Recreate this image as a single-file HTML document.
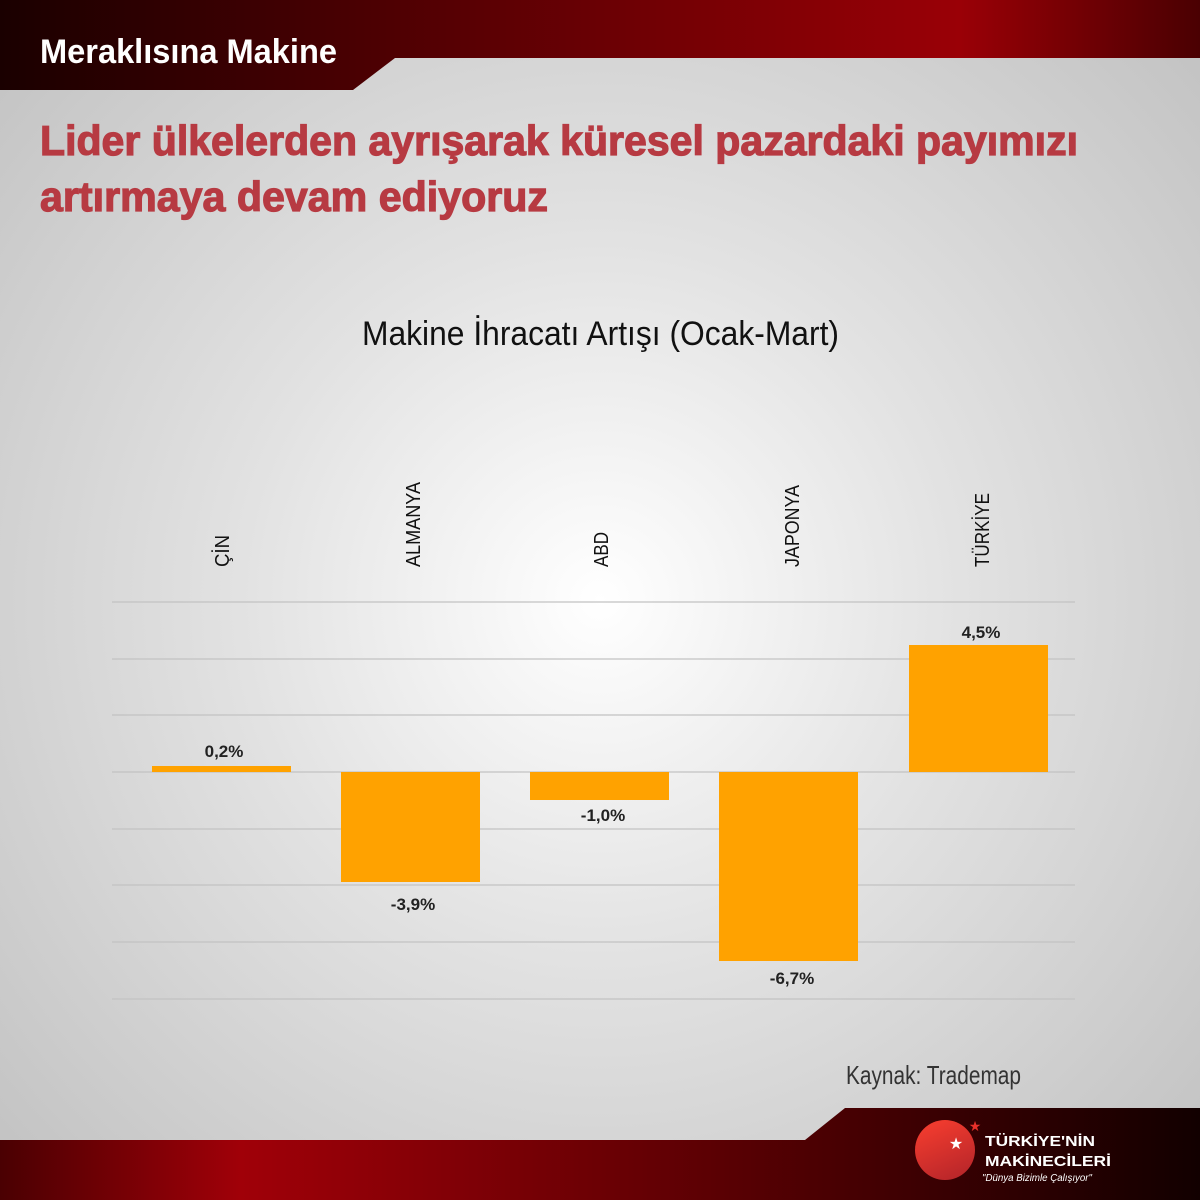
<!DOCTYPE html>
<html><head><meta charset="utf-8"><style>body{margin:0}svg{display:block}</style></head><body>
<svg width="1200" height="1200" xmlns="http://www.w3.org/2000/svg" font-family="'Liberation Sans', sans-serif">
<defs>
<radialGradient id="bg" cx="600" cy="600" r="800" gradientUnits="userSpaceOnUse">
<stop offset="0" stop-color="#ffffff"/><stop offset="0.45" stop-color="#e2e2e2"/><stop offset="1" stop-color="#c4c4c4"/></radialGradient>
<linearGradient id="rd" x1="0" y1="0" x2="1" y2="0">
<stop offset="0" stop-color="#1a0000"/><stop offset="0.4" stop-color="#5a0003"/><stop offset="0.8" stop-color="#9a0006"/><stop offset="1" stop-color="#4a0002"/></linearGradient>
<linearGradient id="rd2" x1="0" y1="0" x2="1" y2="0">
<stop offset="0" stop-color="#4a0002"/><stop offset="0.2" stop-color="#a00008"/><stop offset="0.6" stop-color="#5a0003"/><stop offset="1" stop-color="#120000"/></linearGradient>
<linearGradient id="ball" x1="0.3" y1="0.1" x2="0.7" y2="1"><stop offset="0" stop-color="#ee3a2e"/><stop offset="1" stop-color="#b8262a"/></linearGradient>
</defs>
<rect width="1200" height="1200" fill="url(#bg)"/>
<polygon points="0,0 1200,0 1200,58 395,58 353,90 0,90" fill="url(#rd)"/>
<polygon points="0,1140 805,1140 845,1108 1200,1108 1200,1200 0,1200" fill="url(#rd2)"/>
<text x="40" y="63" fill="#fff" font-size="34" font-weight="bold" textLength="297" lengthAdjust="spacingAndGlyphs">Meraklısına Makine</text>
<g fill="#b73a42" stroke="#b73a42" stroke-width="1.2" font-size="42" font-weight="bold">
<text x="40" y="155" textLength="1038" lengthAdjust="spacingAndGlyphs">Lider ülkelerden ayrışarak küresel pazardaki payımızı</text>
<text x="40" y="211" textLength="508" lengthAdjust="spacingAndGlyphs">artırmaya devam ediyoruz</text>
</g>
<text x="362" y="345" fill="#111" font-size="34" textLength="477" lengthAdjust="spacingAndGlyphs">Makine İhracatı Artışı (Ocak-Mart)</text>
<g stroke="#c2c2c2" stroke-width="1.2">
<line x1="112" y1="602" x2="1075" y2="602"/><line x1="112" y1="659" x2="1075" y2="659"/><line x1="112" y1="715" x2="1075" y2="715"/><line x1="112" y1="772" x2="1075" y2="772"/><line x1="112" y1="829" x2="1075" y2="829"/><line x1="112" y1="885" x2="1075" y2="885"/><line x1="112" y1="942" x2="1075" y2="942"/><line x1="112" y1="999" x2="1075" y2="999"/>
</g>
<g fill="#ffa200">
<rect x="152" y="766" width="139" height="6"/>
<rect x="341" y="772" width="139" height="110"/>
<rect x="530" y="772" width="139" height="28"/>
<rect x="719" y="772" width="139" height="189"/>
<rect x="909" y="645" width="139" height="127"/>
</g>
<g font-size="17" font-weight="bold" fill="#222" text-anchor="middle">
<text x="224" y="757">0,2%</text><text x="413" y="910">-3,9%</text><text x="603" y="821">-1,0%</text><text x="792" y="984">-6,7%</text><text x="981" y="638">4,5%</text>
</g>
<g font-size="20" fill="#111">
<text transform="translate(229,567) rotate(-90)" textLength="32" lengthAdjust="spacingAndGlyphs">ÇİN</text>
<text transform="translate(420,567) rotate(-90)" textLength="85" lengthAdjust="spacingAndGlyphs">ALMANYA</text>
<text transform="translate(608,567) rotate(-90)" textLength="35" lengthAdjust="spacingAndGlyphs">ABD</text>
<text transform="translate(799,567) rotate(-90)" textLength="82" lengthAdjust="spacingAndGlyphs">JAPONYA</text>
<text transform="translate(989,567) rotate(-90)" textLength="74" lengthAdjust="spacingAndGlyphs">TÜRKİYE</text>
</g>
<text x="846" y="1084" fill="#333" font-size="26" textLength="175" lengthAdjust="spacingAndGlyphs">Kaynak: Trademap</text>
<circle cx="945" cy="1150" r="30" fill="url(#ball)"/>
<text x="956" y="1149" fill="#fff" font-size="16" text-anchor="middle">★</text>
<text x="975" y="1131" fill="#e8302a" font-size="14" text-anchor="middle">★</text>
<text x="985" y="1146" fill="#fff" font-size="15" font-weight="bold" textLength="110" lengthAdjust="spacingAndGlyphs">TÜRKİYE'NİN</text>
<text x="985" y="1166" fill="#fff" font-size="15" font-weight="bold" textLength="126" lengthAdjust="spacingAndGlyphs">MAKİNECİLERİ</text>
<text x="982" y="1181" fill="#fff" font-size="10" font-style="italic" textLength="110" lengthAdjust="spacingAndGlyphs">"Dünya Bizimle Çalışıyor"</text>
</svg>
</body></html>
